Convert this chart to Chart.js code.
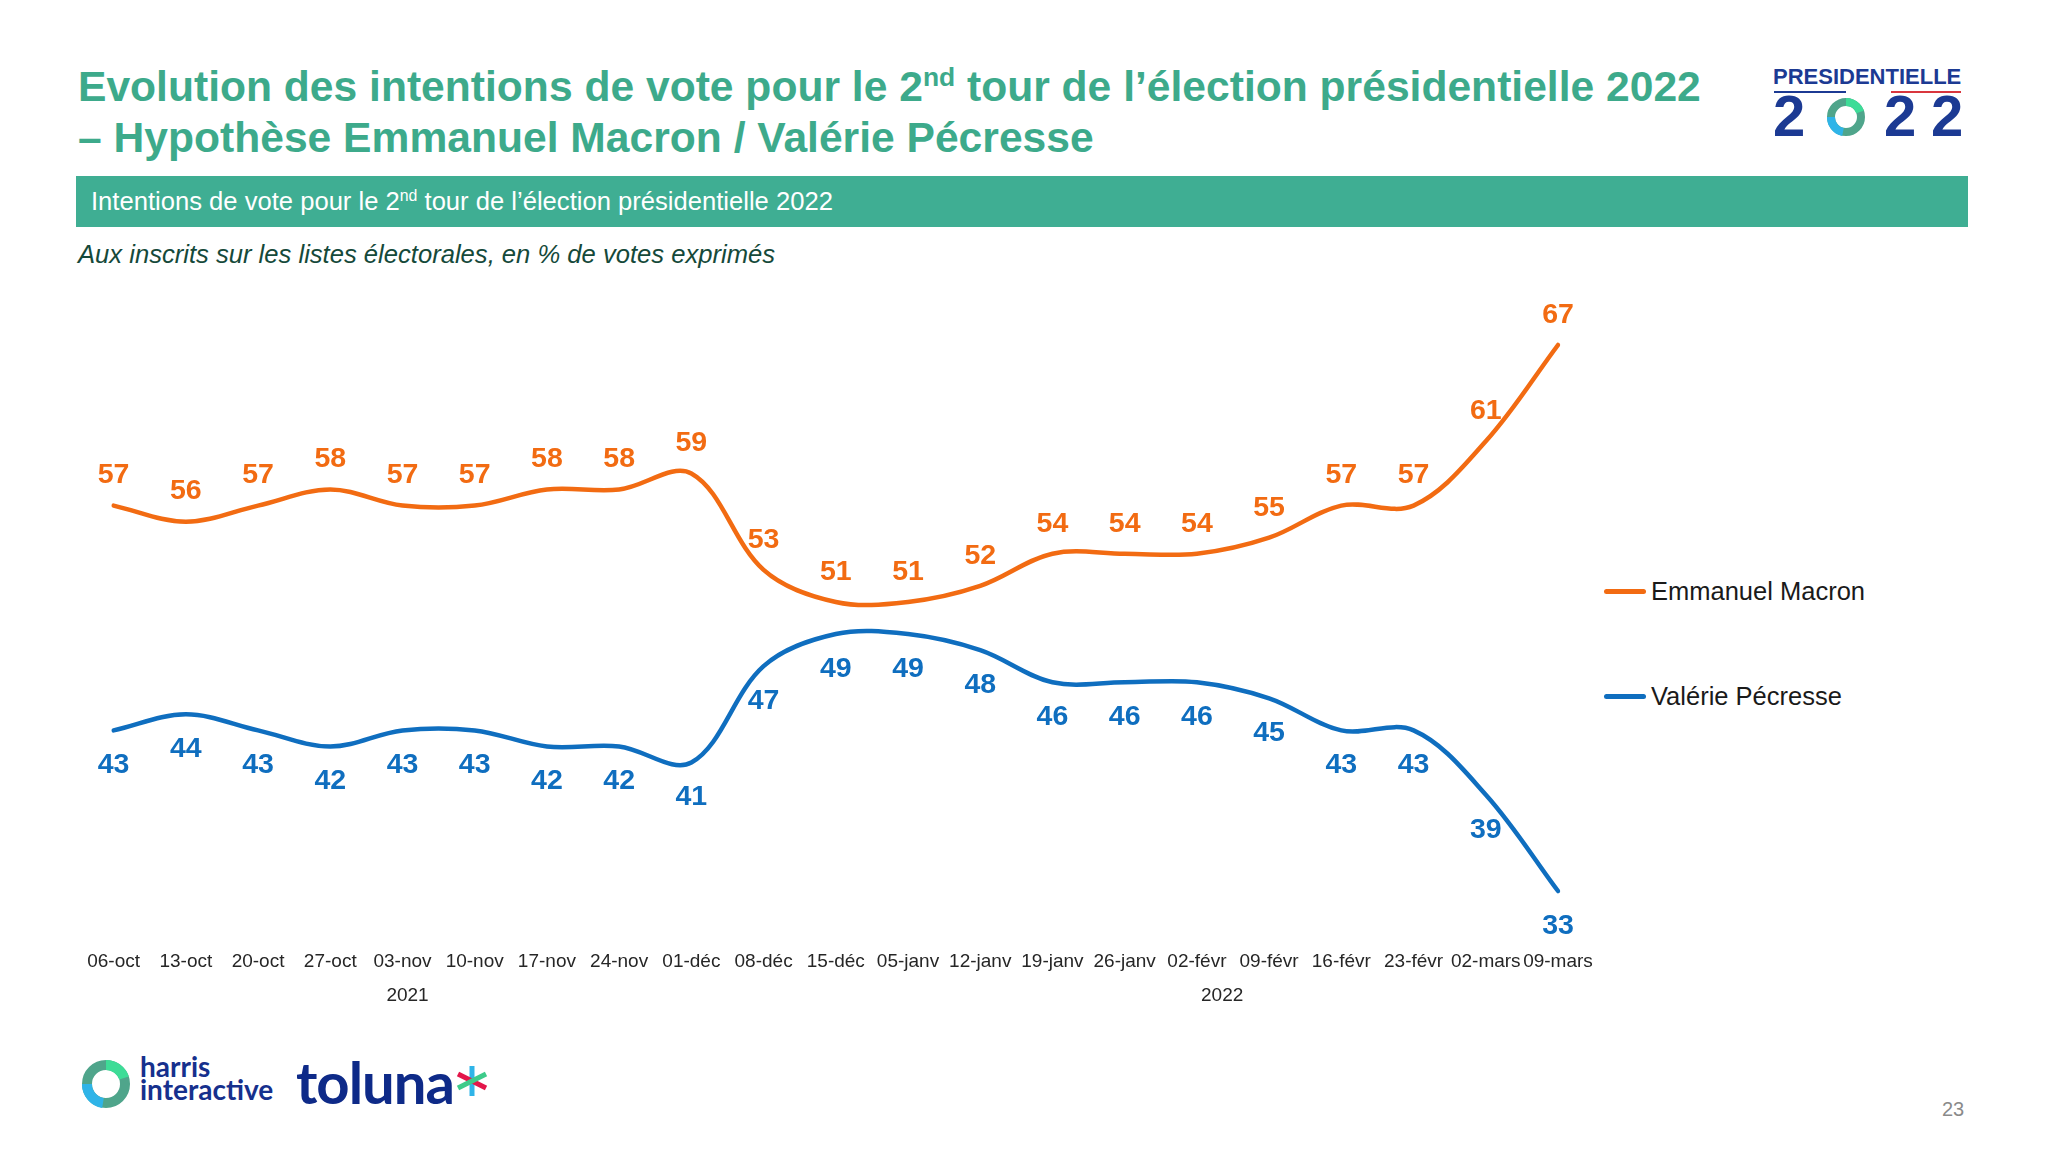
<!DOCTYPE html>
<html lang="fr">
<head>
<meta charset="utf-8">
<script src="https://cdn.jsdelivr.net/npm/chart.js@4.4.1/dist/chart.umd.min.js"></script>
<style>
  html, body { margin: 0; padding: 0; background: #ffffff; }
  body { width: 2048px; height: 1152px; position: relative; overflow: hidden; font-family: "Liberation Sans", Arial, sans-serif; }
  #chart { position: absolute; left: 0; top: 0; }
  .title { position: absolute; left: 78px; top: 61px; color: #3DAA8B; font-weight: bold; font-size: 42.6px; line-height: 51px; white-space: nowrap; }
  .title sup, .bar sup { font-size: 0.62em; line-height: 0; vertical-align: 0.55em; }
  .bar { position: absolute; left: 76px; top: 176px; width: 1892px; height: 51px; background: #3FAE93; color: #ffffff; font-size: 25.6px; line-height: 51px; box-sizing: border-box; padding-left: 15px; white-space: nowrap; }
  .sub { position: absolute; left: 78px; top: 240px; color: #15493A; font-style: italic; font-size: 25.6px; white-space: nowrap; }
  .legend { position: absolute; left: 1604px; font-size: 25.5px; color: #1a1a1a; white-space: nowrap; }
  .legend .sw { display: inline-block; width: 42px; height: 5px; border-radius: 3px; vertical-align: middle; margin-right: 5px; position: relative; top: -2px; }
  .page { position: absolute; left: 1942px; top: 1098px; color: #8a8a8a; font-size: 20px; }
  .pres { position: absolute; left: 1773px; top: 64px; width: 196px; color: #1C3A93; font-weight: bold; }
  .pres .word { font-size: 22px; letter-spacing: 0px; line-height: 26px; }
  .pres .ul { position: absolute; top: 27px; height: 2px; }
  .pres .digits { position: absolute; top: 20px; left: 0; font-size: 58px; line-height: 64px; }
  .harris { position: absolute; left: 140px; top: 1055px; color: #16308D; font-weight: bold; font-size: 28px; line-height: 23px; font-family: "Lato", "Liberation Sans", sans-serif; }
  .toluna { position: absolute; left: 296px; top: 1050px; color: #0E2A88; font-weight: bold; font-size: 58px; line-height: 64px; font-family: "Lato", "Liberation Sans", sans-serif; letter-spacing: -1px; }
</style>
</head>
<body>
<div class="title">Evolution des intentions de vote pour le 2<sup>nd</sup> tour de l’élection présidentielle 2022<br>– Hypothèse Emmanuel Macron / Valérie Pécresse</div>
<div class="bar">Intentions de vote pour le 2<sup>nd</sup> tour de l’élection présidentielle 2022</div>
<div class="sub">Aux inscrits sur les listes électorales, en % de votes exprimés</div>

<div class="pres">
  <div class="word">PRESIDENTIELLE</div>
  <div class="ul" style="left:1px;width:72px;background:#1C3A93"></div>
  <div class="ul" style="left:118px;width:70px;background:#D9363E"></div>
  <div class="digits"><span style="position:absolute;left:0">2</span><span style="position:absolute;left:111px">2</span><span style="position:absolute;left:158px">2</span></div>
  <svg style="position:absolute;left:52px;top:32px" width="42" height="42" viewBox="0 0 42 42">
    <circle cx="21" cy="21" r="15" fill="none" stroke="#4FA58B" stroke-width="8"/>
    <path d="M21 6 A15 15 0 0 1 35 16" fill="none" stroke="#3DDC97" stroke-width="8"/>
    <path d="M6 21 A15 15 0 0 0 18 36" fill="none" stroke="#2FB4E8" stroke-width="8"/>
  </svg>
</div>

<div class="legend" id="leg0" style="top:577px"></div>
<div class="legend" id="leg1" style="top:682px"></div>

<svg style="position:absolute;left:80px;top:1058px" width="52" height="52" viewBox="0 0 52 52">
  <circle cx="26" cy="26" r="19" fill="none" stroke="#4FA58B" stroke-width="10"/>
  <path d="M26 7 A19 19 0 0 1 44 20" fill="none" stroke="#3DDC97" stroke-width="10"/>
  <path d="M7 26 A19 19 0 0 0 23 45" fill="none" stroke="#2FB4E8" stroke-width="10"/>
</svg>
<div class="harris">harris<br>interactive</div>
<div class="toluna">toluna</div>
<svg style="position:absolute;left:455px;top:1064px" width="34" height="34" viewBox="0 0 34 34">
  <line x1="17" y1="2" x2="17" y2="32" stroke="#2FB4E8" stroke-width="5"/>
  <line x1="3" y1="10" x2="31" y2="24" stroke="#E3164A" stroke-width="5"/>
  <line x1="3" y1="24" x2="31" y2="10" stroke="#3DCB8A" stroke-width="5"/>
</svg>
<div class="page">23</div>

<canvas id="chart" width="2048" height="1152"></canvas>

<script>
// ---- Data ----
const categories = ['06-oct','13-oct','20-oct','27-oct','03-nov','10-nov','17-nov','24-nov','01-déc','08-déc','15-déc','05-janv','12-janv','19-janv','26-janv','02-févr','09-févr','16-févr','23-févr','02-mars','09-mars'];
const macron   = [57,56,57,58,57,57,58,58,59,53,51,51,52,54,54,54,55,57,57,61,67];
const pecresse = [43,44,43,42,43,43,42,42,41,47,49,49,48,46,46,46,45,43,43,39,33];
const seriesNames = ['Emmanuel Macron', 'Valérie Pécresse'];
const yearLabels = ['2021', '2022'];

const ORANGE = '#F26B12';
const BLUE = '#0F6EBF';

const dataLabelPlugin = {
  id: 'dataLabels',
  afterDatasetsDraw(chart) {
    const ctx = chart.ctx;
    ctx.save();
    ctx.font = 'bold 28.5px "Liberation Sans", Arial, sans-serif';
    ctx.textAlign = 'center';
    ctx.textBaseline = 'middle';
    chart.data.datasets.forEach((ds, di) => {
      const meta = chart.getDatasetMeta(di);
      ctx.fillStyle = ds.borderColor;
      meta.data.forEach((pt, i) => {
        const off = di === 0 ? -30 : 35;
        ctx.fillText(String(ds.data[i]), pt.x, pt.y + off);
      });
    });
    ctx.restore();
  }
};

const yearPlugin = {
  id: 'years',
  afterDraw(chart) {
    const ctx = chart.ctx;
    const x = chart.scales.x;
    const centers = [4.07, 15.35];
    ctx.save();
    ctx.font = '19px "Liberation Sans", Arial, sans-serif';
    ctx.fillStyle = '#262626';
    ctx.textAlign = 'center';
    ctx.textBaseline = 'middle';
    yearLabels.forEach((y, i) => {
      ctx.fillText(y, x.getPixelForValue(centers[i]), 996);
    });
    ctx.restore();
  }
};

const chart = new Chart(document.getElementById('chart'), {
  type: 'line',
  data: {
    labels: categories,
    datasets: [
      { label: seriesNames[0], data: macron, borderColor: ORANGE, backgroundColor: ORANGE, borderWidth: 4.5, tension: 0.35, pointRadius: 0, fill: false, borderCapStyle: 'round' },
      { label: seriesNames[1], data: pecresse, borderColor: BLUE, backgroundColor: BLUE, borderWidth: 4.5, tension: 0.35, pointRadius: 0, fill: false, borderCapStyle: 'round' }
    ]
  },
  options: {
    responsive: false,
    animation: false,
    devicePixelRatio: 1,
    layout: { padding: { left: 113.6, right: 490, top: 296.8, bottom: 162.8 } },
    plugins: { legend: { display: false }, tooltip: { enabled: false } },
    scales: {
      y: { display: false, min: 30, max: 70 },
      x: {
        offset: false,
        grid: { display: false, drawTicks: false },
        border: { display: false },
        afterFit: (s) => { s.height = 50; },
        ticks: {
          autoSkip: false, maxRotation: 0, minRotation: 0, padding: 11,
          color: '#262626',
          font: { family: '"Liberation Sans", Arial, sans-serif', size: 19 }
        }
      }
    }
  },
  plugins: [dataLabelPlugin, yearPlugin]
});

// legend built from datasets
chart.data.datasets.forEach((ds, i) => {
  const el = document.getElementById('leg' + i);
  el.innerHTML = '<span class="sw" style="background:' + ds.borderColor + '"></span>' + ds.label;
});
</script>
</body>
</html>
